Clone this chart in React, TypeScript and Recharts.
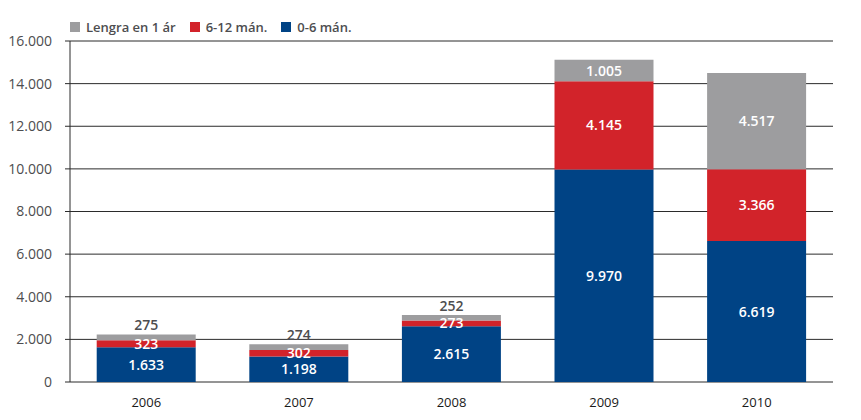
import { Bar, BarChart, CartesianGrid, LabelList, XAxis, YAxis } from 'recharts';

const YEARS = ['2006', '2007', '2008', '2009', '2010'];
const SHORT = [1633, 1198, 2615, 9970, 6619]; // 0-6 mán.
const MID = [323, 302, 273, 4145, 3366]; // 6-12 mán.
const LONG = [275, 274, 252, 1005, 4517]; // Lengra en 1 ár
const Y_TICKS = [0, 2000, 4000, 6000, 8000, 10000, 12000, 14000, 16000];

const BLUE = '#004385';
const RED = '#d2232a';
const GRAY = '#9d9d9f';
const LINE = '#2b2b2b';
const TEXT = '#4d4d4f';
const FONT = '"Open Sans", "Noto Sans", sans-serif';

const data = YEARS.map((year, i) => ({
  year,
  short: SHORT[i],
  mid: MID[i],
  long: LONG[i],
}));

const LEGEND = [
  { label: 'Lengra en 1 ár', color: GRAY },
  { label: '6-12 mán.', color: RED },
  { label: '0-6 mán.', color: BLUE },
];

function fmt(v: number) {
  return String(v).replace(/\B(?=(\d{3})+(?!\d))/g, '.');
}

function inside(props: any) {
  const { x, y, width, height, value } = props;
  return (
    <text
      x={x + width / 2}
      y={y + height / 2}
      dy="0.36em"
      textAnchor="middle"
      fill="#fff"
      fontFamily={FONT}
      fontWeight={600}
      fontSize={14}
    >
      {fmt(value)}
    </text>
  );
}

function topLabel(props: any) {
  const { x, y, width, value } = props;
  if (value < 500) {
    return (
      <text
        x={x + width / 2}
        y={y - 9}
        dy="0.36em"
        textAnchor="middle"
        fill={TEXT}
        fontFamily={FONT}
        fontWeight={600}
        fontSize={14}
      >
        {fmt(value)}
      </text>
    );
  }
  return inside(props);
}

export default function App() {
  return (
    <div style={{ position: 'absolute', left: 0, top: 0, width: 861, height: 420, background: '#fff' }}>
      <div
        style={{
          position: 'absolute',
          left: 70,
          top: 19,
          display: 'flex',
          gap: 14,
          fontFamily: FONT,
          fontSize: 13,
          fontWeight: 600,
          color: TEXT,
          lineHeight: '16px',
        }}
      >
        {LEGEND.map((l) => (
          <div key={l.label} style={{ display: 'flex', alignItems: 'center', gap: 6 }}>
            <span style={{ width: 10, height: 10, background: l.color, display: 'inline-block' }} />
            {l.label}
          </div>
        ))}
      </div>
      <BarChart
        width={861}
        height={420}
        data={data}
        barCategoryGap="17.5%"
        margin={{ top: 41, right: 28, bottom: 8, left: 0 }}
      >
        <CartesianGrid vertical={false} stroke={LINE} strokeWidth={1} />
        <XAxis
          xAxisId="marks"
          type="number"
          domain={[0, 5]}
          ticks={[0, 1, 2, 3, 4, 5]}
          tick={false}
          tickSize={5}
          tickLine={{ stroke: LINE }}
          axisLine={{ stroke: LINE }}
          height={0}
          allowDataOverflow
        />
        <XAxis
          dataKey="year"
          tickLine={false}
          axisLine={false}
          height={30}
          tickMargin={10}
          tick={{ fontFamily: FONT, fontSize: 13, fill: '#1a1a1a' }}
        />
        <YAxis
          domain={[0, 16000]}
          ticks={Y_TICKS}
          tickFormatter={fmt}
          width={70}
          tickSize={5}
          tickMargin={13}
          tickLine={{ stroke: LINE }}
          axisLine={{ stroke: LINE }}
          tick={{ fontFamily: FONT, fontSize: 14, fill: TEXT }}
          interval={0}
        />
        <Bar dataKey="short" stackId="a" fill={BLUE} isAnimationActive={false}>
          <LabelList dataKey="short" content={inside} />
        </Bar>
        <Bar dataKey="mid" stackId="a" fill={RED} isAnimationActive={false}>
          <LabelList dataKey="mid" content={inside} />
        </Bar>
        <Bar dataKey="long" stackId="a" fill={GRAY} isAnimationActive={false}>
          <LabelList dataKey="long" content={topLabel} />
        </Bar>
      </BarChart>
    </div>
  );
}
